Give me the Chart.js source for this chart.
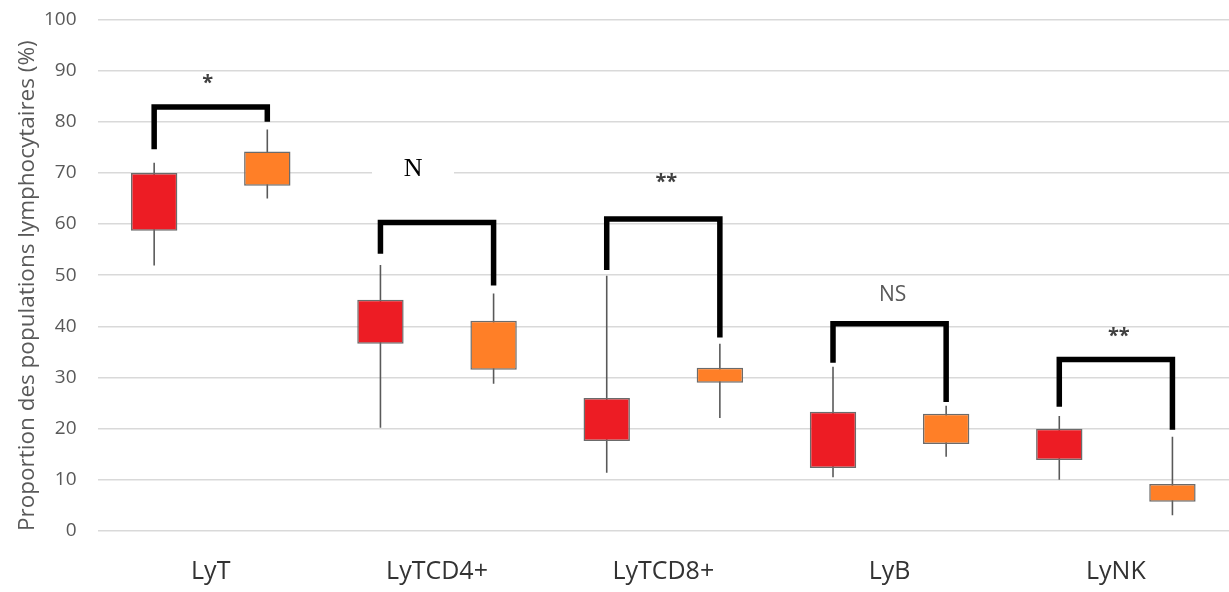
<!DOCTYPE html>
<html>
<head>
<meta charset="utf-8">
<script src="https://cdn.jsdelivr.net/npm/chart.js@4.4.1/dist/chart.umd.min.js"></script>
<style>
  html, body { margin: 0; padding: 0; background: #fff; }
  #wrap { width: 1229px; height: 592px; }
</style>
</head>
<body>
<div id="wrap"><canvas id="box-chart"></canvas></div>
<script>
const categories = ["LyT", "LyTCD4+", "LyTCD8+", "LyB", "LyNK"];

// boxes [Q1, Q3] and whiskers [min, max]
const redBox = [[58.7, 70], [36.6, 45.2], [17.6, 26], [12.3, 23.3], [13.9, 20]];
const redWhisker = [[51.9, 72], [20.2, 52], [11.4, 49.9], [10.5, 32.1], [10, 22.5]];
const orangeBox = [[67.5, 74.2], [31.5, 41.1], [29, 31.9], [17, 22.9], [5.7, 9.2]];
const orangeWhisker = [[65, 78.5], [28.8, 46.4], [22.1, 36.6], [14.5, 24.5], [3.1, 18.4]];

// significance brackets
const bracketTop = [82.9, 60.3, 61, 40.5, 33.5];
const bracketLeftEnd = [74.6, 54.2, 51, 32.9, 24.3];
const bracketRightEnd = [80, 48, 37.8, 25.2, 19.8];
const sigLabels = ["*", "N", "**", "NS", "**"];
const sigLabelY = [87.5, 70.8, 68.1, 46.2, 38];

const yTicks = [0, 10, 20, 30, 40, 50, 60, 70, 80, 90, 100];

const sigStyle = {
  "*": { font: 'bold 20px "Open Sans"', color: '#404040', dx: -3 },
  "**": { font: 'bold 20px "Open Sans"', color: '#404040', dx: 3 },
  "NS": { font: '21px "Open Sans"', color: '#595959', dx: 3 },
  "N": { font: '26px "Liberation Serif"', color: '#000', dx: -24, whiteBox: [82, 38] }
};

const brackets = {
  id: 'brackets',
  beforeDatasetsDraw(chart) {
    // white patch behind "N" hiding the gridline
    const { ctx, scales: { x, y } } = chart;
    ctx.save();
    sigLabels.forEach((s, i) => {
      const st = sigStyle[s];
      if (!st.whiteBox) return;
      const cx = x.getPixelForValue(i) + st.dx;
      const cy = y.getPixelForValue(sigLabelY[i]);
      ctx.fillStyle = '#fff';
      ctx.fillRect(cx - st.whiteBox[0] / 2, cy - st.whiteBox[1] / 2, st.whiteBox[0], st.whiteBox[1]);
    });
    ctx.restore();
  },
  afterDatasetsDraw(chart) {
    const { ctx, scales: { x, y } } = chart;
    const red = chart.getDatasetMeta(0).data;
    const orange = chart.getDatasetMeta(1).data;
    ctx.save();
    categories.forEach((c, i) => {
      const x1 = red[i].x, x2 = orange[i].x;
      const top = y.getPixelForValue(bracketTop[i]);
      ctx.beginPath();
      ctx.moveTo(x1, y.getPixelForValue(bracketLeftEnd[i]));
      ctx.lineTo(x1, top);
      ctx.lineTo(x2, top);
      ctx.lineTo(x2, y.getPixelForValue(bracketRightEnd[i]));
      ctx.lineWidth = 5.5;
      ctx.lineJoin = 'miter';
      ctx.lineCap = 'butt';
      ctx.strokeStyle = '#000';
      ctx.stroke();

      const st = sigStyle[sigLabels[i]];
      ctx.font = st.font;
      ctx.fillStyle = st.color;
      ctx.textAlign = 'center';
      ctx.textBaseline = 'middle';
      ctx.fillText(sigLabels[i], x.getPixelForValue(i) + st.dx, y.getPixelForValue(sigLabelY[i]));
    });
    ctx.restore();
  }
};

const boxStyle = { borderColor: '#6b6b6b', borderWidth: 1.5, borderSkipped: false, barPercentage: 0.41 };
const whiskerStyle = { backgroundColor: '#595959', barPercentage: 0.014 };

new Chart(document.getElementById("box-chart"), {
  type: 'bar',
  data: {
    labels: categories,
    datasets: [
      { data: redBox, stack: 'red', backgroundColor: '#ED1C24', ...boxStyle },
      { data: orangeBox, stack: 'orange', backgroundColor: '#FF7F27', ...boxStyle },
      { data: redWhisker, stack: 'red', ...whiskerStyle },
      { data: orangeWhisker, stack: 'orange', ...whiskerStyle }
    ]
  },
  options: {
    responsive: true,
    maintainAspectRatio: false,
    animation: false,
    datasets: { bar: { categoryPercentage: 1 } },
    layout: { padding: { top: 0, right: 0, bottom: -13, left: 0 } },
    plugins: {
      legend: { display: false },
      tooltip: { enabled: false }
    },
    scales: {
      x: {
        stacked: true,
        grid: { display: false },
        border: { display: false },
        ticks: { color: '#333', font: { family: 'Open Sans', size: 25 }, padding: 18 }
      },
      y: {
        stacked: false,
        min: 0,
        max: 100,
        afterBuildTicks: axis => { axis.ticks = yTicks.map(v => ({ value: v })); },
        grid: { color: '#d9d9d9', lineWidth: 1.5, drawTicks: true, tickLength: 13, tickColor: 'rgba(0,0,0,0)' },
        border: { display: false },
        ticks: { color: '#595959', font: { family: 'Open Sans', size: 19 }, padding: 8 },
        title: {
          display: true,
          align: 'start',
          text: 'Proportion des populations lymphocytaires (%)',
          color: '#595959',
          font: { family: 'Open Sans', size: 22.5 },
          padding: { top: 14, bottom: -5 }
        }
      }
    }
  },
  plugins: [brackets]
});
</script>
</body>
</html>
